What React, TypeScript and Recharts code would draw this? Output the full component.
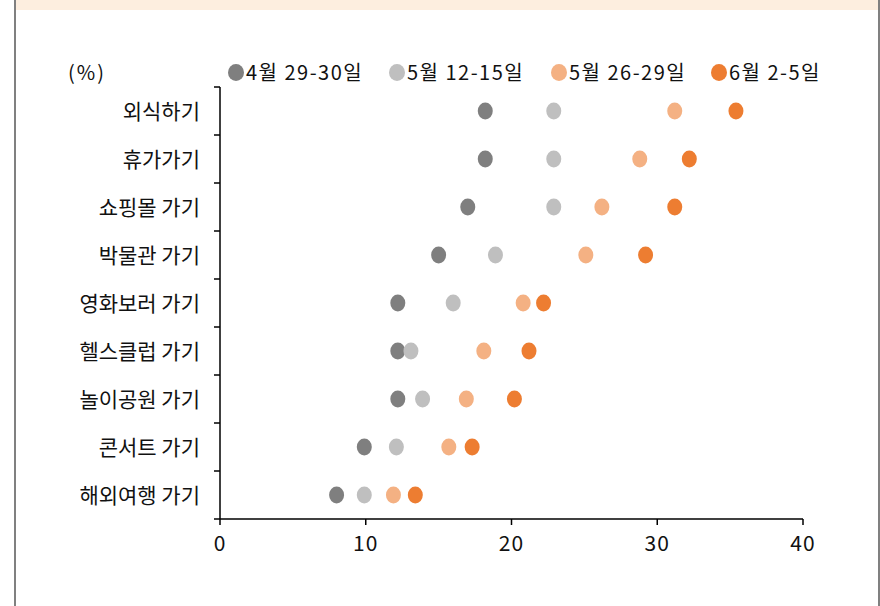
import { ScatterChart, Scatter, XAxis, YAxis } from "recharts";

const categories = [
  "외식하기",
  "휴가가기",
  "쇼핑몰 가기",
  "박물관 가기",
  "영화보러 가기",
  "헬스클럽 가기",
  "놀이공원 가기",
  "콘서트 가기",
  "해외여행 가기",
];

const apr29to30 = [18.2, 18.2, 17.0, 15.0, 12.2, 12.2, 12.2, 9.9, 8.0];
const may12to15 = [22.9, 22.9, 22.9, 18.9, 16.0, 13.1, 13.9, 12.1, 9.9];
const may26to29 = [31.2, 28.8, 26.2, 25.1, 20.8, 18.1, 16.9, 15.7, 11.9];
const jun2to5 = [35.4, 32.2, 31.2, 29.2, 22.2, 21.2, 20.2, 17.3, 13.4];

const xTicks = [0, 10, 20, 30, 40];

const FONT = "'Noto Sans CJK KR', 'Noto Sans', sans-serif";

const series = [
  { name: "4월 29-30일", values: apr29to30, color: "#7f7f7f", left: 228 },
  { name: "5월 12-15일", values: may12to15, color: "#bfbfbf", left: 389 },
  { name: "5월 26-29일", values: may26to29, color: "#f4b183", left: 551 },
  { name: "6월 2-5일", values: jun2to5, color: "#ed7d31", left: 711 },
];

// category rows sit at i + 0.5, tick marks at the integer boundaries
const yTicks = Array.from({ length: categories.length * 2 + 1 }, (_, i) => i / 2);

const toPoints = (values: number[]) =>
  values.map((v, i) => ({ x: v, y: i + 0.5 }));

function YTick(props: any) {
  const { x, y, payload } = props;
  const v = payload.value as number;
  if (Number.isInteger(v)) {
    return (
      <line x1={x + 20 - 6} x2={x + 20} y1={y} y2={y} stroke="#000" strokeWidth={1.5} />
    );
  }
  return (
    <text x={x} y={y} dy="0.38em" textAnchor="end" fontSize={21} fill="#111" fontFamily={FONT}>
      {categories[Math.floor(v)]}
    </text>
  );
}

const dot = (color: string) => (props: any) =>
  <ellipse cx={props.cx} cy={props.cy} rx={7.5} ry={8.5} fill={color} />;

export default function App() {
  return (
    <div
      style={{
        position: "absolute",
        left: 0,
        top: 0,
        width: 880,
        height: 606,
        background: "#fff",
        fontFamily: FONT,
      }}
    >
      <div style={{ position: "absolute", left: 14, top: 0, width: 2, height: 606, background: "#808080" }} />
      <div style={{ position: "absolute", left: 878, top: 0, width: 2, height: 606, background: "#808080" }} />
      <div style={{ position: "absolute", left: 16, top: 0, width: 862, height: 10, background: "#fdeedf" }} />

      <div
        style={{
          position: "absolute",
          left: 68,
          top: 57,
          fontSize: 20,
          lineHeight: "30px",
          letterSpacing: 2,
          color: "#111",
        }}
      >
        (%)
      </div>
      {series.map((s) => (
        <div
          key={s.name}
          style={{
            position: "absolute",
            left: s.left,
            top: 57,
            display: "flex",
            alignItems: "center",
            gap: 2,
            fontSize: 20,
            lineHeight: "30px",
            letterSpacing: 1.5,
            color: "#111",
            whiteSpace: "nowrap",
          }}
        >
          <span
            style={{
              display: "inline-block",
              width: 16,
              height: 17,
              borderRadius: "50%",
              background: s.color,
            }}
          />
          <span>{s.name}</span>
        </div>
      ))}

      <ScatterChart
        width={880}
        height={606}
        margin={{ top: 87, right: 77, bottom: 57, left: 0 }}
      >
        <XAxis
          type="number"
          dataKey="x"
          domain={[0, 40]}
          ticks={xTicks}
          interval={0}
          tickSize={6}
          tickMargin={11}
          height={30}
          axisLine={{ stroke: "#000", strokeWidth: 1.5 }}
          tickLine={{ stroke: "#000", strokeWidth: 1.5 }}
          tick={{ fontSize: 21, fill: "#111", fontFamily: FONT, letterSpacing: 1 }}
        />
        <YAxis
          type="number"
          dataKey="y"
          domain={[0, categories.length]}
          reversed
          ticks={yTicks}
          interval={0}
          width={220}
          tickSize={0}
          tickMargin={20}
          tickLine={false}
          axisLine={{ stroke: "#000", strokeWidth: 1.5 }}
          tick={<YTick />}
        />
        {series.map((s) => (
          <Scatter
            key={s.name}
            name={s.name}
            data={toPoints(s.values)}
            fill={s.color}
            shape={dot(s.color)}
            isAnimationActive={false}
          />
        ))}
      </ScatterChart>
    </div>
  );
}
